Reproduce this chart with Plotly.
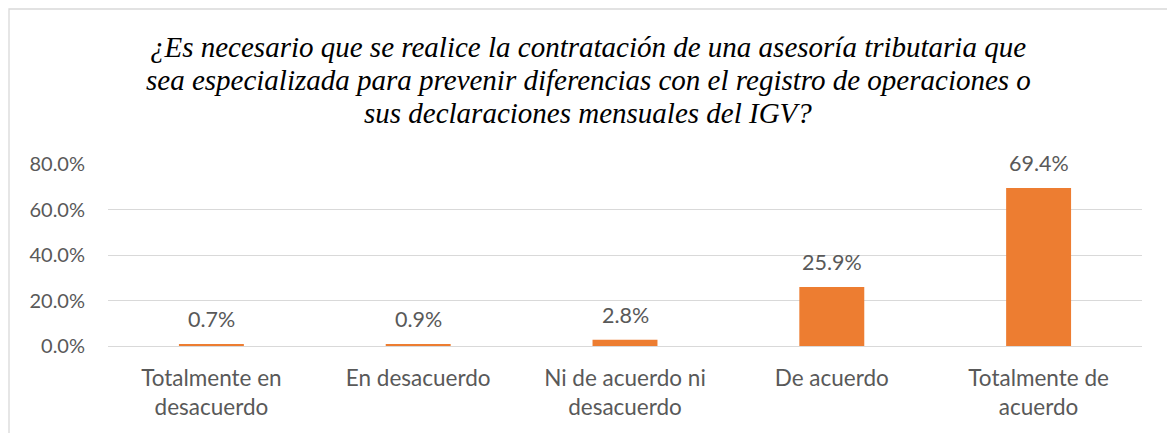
import plotly.graph_objects as go

categories = ["Totalmente en<br>desacuerdo", "En desacuerdo", "Ni de acuerdo ni<br>desacuerdo",
              "De acuerdo", "Totalmente de<br>acuerdo"]
values = [0.007, 0.009, 0.028, 0.259, 0.694]
value_labels = ["0.7%", "0.9%", "2.8%", "25.9%", "69.4%"]
tick_vals = [0.0, 0.2, 0.4, 0.6, 0.8]
tick_text = ["0.0%", "20.0%", "40.0%", "60.0%", "80.0%"]
title_lines = ["¿Es necesario que se realice la contratación de una asesoría tributaria que",
               "sea especializada para prevenir diferencias con el registro de operaciones o",
               "sus declaraciones mensuales del IGV?"]

W, H = 1167, 433
ML, MR, MT, MB = 108, 25, 164, 87
TXT = "#595959"
FONT = "Lato"

fig = go.Figure(go.Bar(
    x=categories, y=values, marker=dict(color="#ED7D31", line=dict(width=0)),
    width=0.314, hoverinfo="skip",
))

for c, v, t in zip(categories, values, value_labels):
    fig.add_annotation(x=c, y=v, text=t, showarrow=False, yanchor="middle", yshift=25,
                       font=dict(family=FONT, size=21.5, color=TXT))

# title, one annotation per line (Word-like single line spacing)
title_y = [47, 80, 113]
for line, yc in zip(title_lines, title_y):
    fig.add_annotation(text=line, xref="paper", yref="paper", x=(588 - ML) / (W - ML - MR),
                       y=(H - MB - yc) / (H - MT - MB), xanchor="center", yanchor="middle",
                       showarrow=False,
                       font=dict(family="Liberation Serif", size=29, color="#000000", style="italic"))

pw = W - ML - MR
ph = H - MT - MB
fig.add_shape(type="rect", xref="paper", yref="paper",
              x0=(9 - ML) / pw, x1=(W + 5 - ML) / pw,
              y0=-(H + 5 - MT - ph) / ph, y1=(H - 9 - MB) / ph,
              line=dict(color="#d9d9d9", width=1.3), fillcolor="rgba(0,0,0,0)", layer="below")

fig.update_layout(
    width=W, height=H,
    margin=dict(l=ML, r=MR, t=MT, b=MB),
    paper_bgcolor="white", plot_bgcolor="white",
    showlegend=False,
    xaxis=dict(showgrid=False, showline=False, ticks="", tickfont=dict(family=FONT, size=22.5, color=TXT),
               ticklabelstandoff=16),
    yaxis=dict(range=[0, 0.8], tickvals=tick_vals, ticktext=tick_text, showgrid=True,
               gridcolor="#d9d9d9", gridwidth=1.3, zeroline=True, zerolinecolor="#d9d9d9", zerolinewidth=1.3,
               showline=False, ticks="", tickfont=dict(family=FONT, size=20, color=TXT),
               ticklabelstandoff=22),
)

fig.write_html("out.html", config={"displayModeBar": False},
               post_script="document.body.style.margin='0';document.body.style.overflow='hidden';")
